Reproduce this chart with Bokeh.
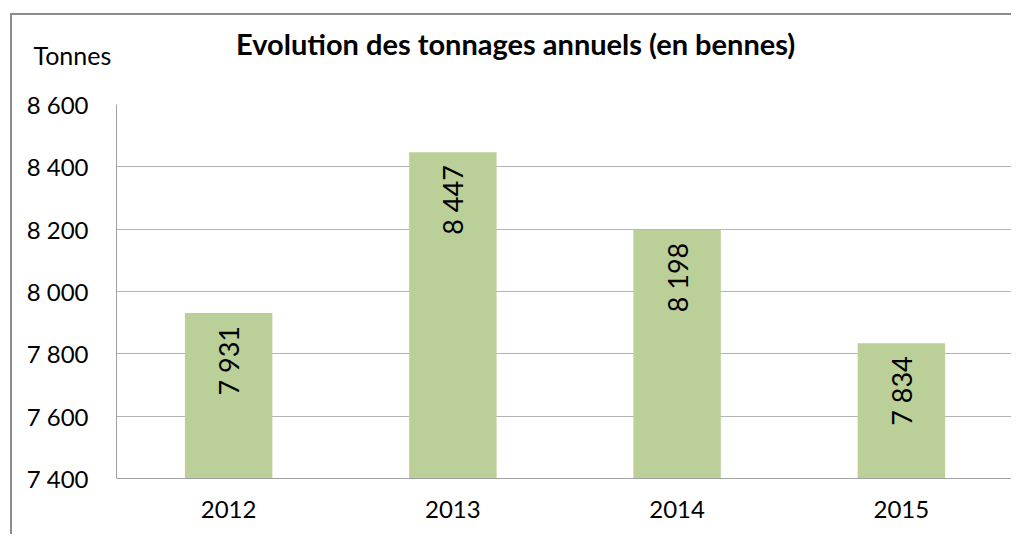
from bokeh.plotting import figure
from bokeh.models import FixedTicker, ColumnDataSource, LinearAxis, Range1d
from bokeh.core.properties import value
from bokeh.embed import file_html
from bokeh.resources import INLINE
import math

years = ["2012", "2013", "2014", "2015"]
tonnes = [7931, 8447, 8198, 7834]
tick_values = [7400, 7600, 7800, 8000, 8200, 8400, 8600]
tick_labels = ["7 400", "7 600", "7 800", "8 000", "8 200", "8 400", "8 600"]
bar_labels = ["7 931", "8 447", "8 198", "7 834"]
unit_label = "Tonnes"
title_text = "Evolution des tonnages annuels (en bennes)"

FONT = "Lato"
NBSP = "\u00a0"

pos = list(range(len(years)))
src = ColumnDataSource(dict(x=pos, top=tonnes, lab=bar_labels))

p = figure(x_range=Range1d(-0.5, len(years) - 0.5), y_range=(7400, 8600),
           width=1001, height=521,
           output_backend="svg", toolbar_location=None,
           min_border_left=104, min_border_right=0, min_border_top=89, min_border_bottom=58)
p.styles = {"margin-left": "10px", "margin-top": "13px",
            "border-left": "2px solid #8c8c8c", "border-top": "2px solid #8c8c8c"}
p.outline_line_color = None
p.background_fill_color = "white"
p.border_fill_color = "white"

p.vbar(x="x", top="top", bottom=7400, width=0.39, source=src,
       fill_color="#bbcf99", line_color=None)

p.text(x="x", y="top", text="lab", source=src, angle=math.pi / 2,
       text_align="right", text_baseline="middle", y_offset=13,
       text_font=value(FONT), text_font_size="27px", text_color="black")

p.xgrid.grid_line_color = None
p.ygrid.grid_line_color = "#b4b4b4"
p.ygrid.ticker = FixedTicker(ticks=tick_values)

p.yaxis.ticker = FixedTicker(ticks=tick_values)
p.yaxis.major_label_overrides = {v: l for v, l in zip(tick_values, tick_labels)}
p.yaxis.major_tick_line_color = None
p.yaxis.minor_tick_line_color = None
p.yaxis.major_tick_out = 0
p.yaxis.major_label_standoff = 28
p.yaxis.axis_line_color = "#a0a0a0"

p.xaxis.ticker = FixedTicker(ticks=pos)
p.xaxis.major_label_overrides = {i: y for i, y in zip(pos, years)}
p.xaxis.major_tick_line_color = None
p.xaxis.minor_tick_line_color = None
p.xaxis.major_tick_out = 0
p.xaxis.major_label_standoff = 22
p.xaxis.axis_line_color = "#a0a0a0"

for ax in (p.xaxis, p.yaxis):
    ax.major_label_text_font = FONT
    ax.major_label_text_font_size = "24px"
    ax.major_label_text_color = "black"

# Extra axis above the frame: its tick label is the "Tonnes" unit label,
# its axis label is the chart title.
unit_x = -0.497
ax2 = LinearAxis(ticker=FixedTicker(ticks=[unit_x]),
                 major_label_overrides={unit_x: unit_label + NBSP * 14},
                 major_label_standoff=35,
                 major_tick_out=0,
                 axis_line_color=None, major_tick_line_color=None,
                 minor_tick_line_color=None,
                 major_label_text_font=FONT, major_label_text_font_size="25px",
                 major_label_text_color="black",
                 axis_label=title_text + NBSP * 14,
                 axis_label_text_font=FONT, axis_label_text_font_size="29px",
                 axis_label_text_font_style="bold", axis_label_text_color="black")
try:
    ax2.axis_label_standoff = -24
except Exception:
    ax2.axis_label_standoff = 0
p.add_layout(ax2, "above")

open("out.html", "w").write(file_html(p, INLINE))
